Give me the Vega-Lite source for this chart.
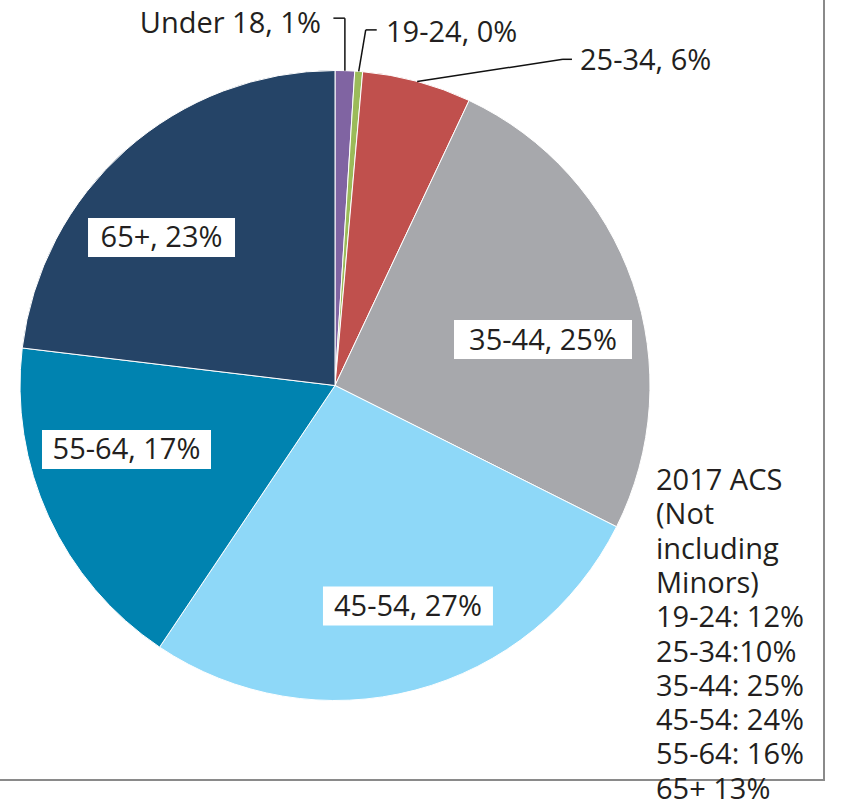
{
  "$schema": "https://vega.github.io/schema/vega-lite/v6.json",
  "autosize": "none",
  "width": 978,
  "height": 789,
  "padding": {"left": -154, "top": -9, "right": 26, "bottom": 19},
  "background": "white",
  "config": {
    "view": {"stroke": "#8a8a8a", "strokeWidth": 2},
    "text": {"font": "Open Sans", "fontSize": 29, "color": "#231F20"}
  },
  "data": {
    "values": [
      {"age": "Under 18", "value": 1.0, "label": "Under 18, 1%"},
      {"age": "19-24", "value": 0.4, "label": "19-24, 0%"},
      {"age": "25-34", "value": 5.6, "label": "25-34, 6%"},
      {"age": "35-44", "value": 25.4, "label": "35-44, 25%"},
      {"age": "45-54", "value": 27.0, "label": "45-54, 27%"},
      {"age": "55-64", "value": 17.5, "label": "55-64, 17%"},
      {"age": "65+", "value": 23.1, "label": "65+, 23%"}
    ]
  },
  "transform": [
    {"window": [{"op": "sum", "field": "value", "as": "cum"}, {"op": "row_number", "as": "idx"}], "frame": [null, 0]},
    {"joinaggregate": [{"op": "sum", "field": "value", "as": "total"}]},
    {"calculate": "2*PI*(datum.cum - datum.value/2)/datum.total", "as": "a"},
    {"calculate": "315*sin(datum.a)", "as": "ex"},
    {"calculate": "315*cos(datum.a)", "as": "ey"},
    {"calculate": "222*sin(datum.a)", "as": "lx"},
    {"calculate": "222*cos(datum.a)", "as": "ly"}
  ],
  "encoding": {
    "x": {"field": "lx", "type": "quantitative", "scale": {"domain": [-489, 489], "nice": false, "zero": false}, "axis": null},
    "y": {"field": "ly", "type": "quantitative", "scale": {"domain": [-394.5, 394.5], "nice": false, "zero": false}, "axis": null}
  },
  "layer": [
    {
      "mark": {"type": "arc", "radius": 315, "stroke": "white", "strokeWidth": 1},
      "encoding": {
        "x": {"datum": 0, "type": "quantitative"},
        "y": {"datum": 0, "type": "quantitative"},
        "theta": {"field": "value", "type": "quantitative", "stack": true},
        "order": {"field": "idx", "type": "quantitative"},
        "color": {
          "field": "age", "type": "nominal", "legend": null,
          "scale": {
            "domain": ["Under 18", "19-24", "25-34", "35-44", "45-54", "55-64", "65+"],
            "range": ["#8064A2", "#9BBB59", "#C0504D", "#A7A8AC", "#8ED8F8", "#0083B0", "#254467"]
          }
        }
      }
    },
    {
      "transform": [{"filter": "datum.age === '35-44'"}],
      "mark": {"type": "rect", "color": "white", "xOffset": -90.8, "x2Offset": 87.2, "yOffset": 7.1, "y2Offset": 46.1},
      "encoding": {"x2": {"field": "lx"}, "y2": {"field": "ly"}}
    },
    {
      "transform": [{"filter": "datum.age === '35-44'"}],
      "mark": {"type": "text", "align": "center", "baseline": "middle", "dx": -1.8, "dy": 27.6},
      "encoding": {"text": {"field": "label"}}
    },
    {
      "transform": [{"filter": "datum.age === '45-54'"}],
      "mark": {"type": "rect", "color": "white", "xOffset": -68.6, "x2Offset": 101.4, "yOffset": -13.7, "y2Offset": 25.3},
      "encoding": {"x2": {"field": "lx"}, "y2": {"field": "ly"}}
    },
    {
      "transform": [{"filter": "datum.age === '45-54'"}],
      "mark": {"type": "text", "align": "center", "baseline": "middle", "dx": 16.4, "dy": 6.8},
      "encoding": {"text": {"field": "label"}}
    },
    {
      "transform": [{"filter": "datum.age === '55-64'"}],
      "mark": {"type": "rect", "color": "white", "xOffset": -91.25, "x2Offset": 77.75, "yOffset": -48.15, "y2Offset": -9.15},
      "encoding": {"x2": {"field": "lx"}, "y2": {"field": "ly"}}
    },
    {
      "transform": [{"filter": "datum.age === '55-64'"}],
      "mark": {"type": "text", "align": "center", "baseline": "middle", "dx": -6.75, "dy": -27.65},
      "encoding": {"text": {"field": "label"}}
    },
    {
      "transform": [{"filter": "datum.age === '65+'"}],
      "mark": {"type": "rect", "color": "white", "xOffset": -99.65, "x2Offset": 47.35, "yOffset": -1.45, "y2Offset": 37.55},
      "encoding": {"x2": {"field": "lx"}, "y2": {"field": "ly"}}
    },
    {
      "transform": [{"filter": "datum.age === '65+'"}],
      "mark": {"type": "text", "align": "center", "baseline": "middle", "dx": -26.15, "dy": 19.05},
      "encoding": {"text": {"field": "label"}}
    },
    {
      "transform": [{"filter": "datum.age === 'Under 18'"}],
      "mark": {"type": "rule", "color": "#111", "strokeWidth": 1.5, "y2Offset": -52.5},
      "encoding": {"x": {"field": "ex", "type": "quantitative"}, "y": {"field": "ey", "type": "quantitative"}, "x2": {"field": "ex"}, "y2": {"field": "ey"}}
    },
    {
      "transform": [{"filter": "datum.age === 'Under 18'"}],
      "mark": {"type": "rule", "color": "#111", "strokeWidth": 1.5, "yOffset": -52.5, "y2Offset": -52.5, "x2Offset": -11.5},
      "encoding": {"x": {"field": "ex", "type": "quantitative"}, "y": {"field": "ey", "type": "quantitative"}, "x2": {"field": "ex"}, "y2": {"field": "ey"}}
    },
    {
      "transform": [{"filter": "datum.age === 'Under 18'"}],
      "mark": {"type": "text", "align": "right", "baseline": "middle", "dx": -24, "dy": -46.9},
      "encoding": {"x": {"field": "ex", "type": "quantitative"}, "y": {"field": "ey", "type": "quantitative"}, "text": {"field": "label"}}
    },
    {
      "transform": [{"filter": "datum.age === '19-24'"}],
      "mark": {"type": "rule", "color": "#111", "strokeWidth": 1.5, "x2Offset": 7, "y2Offset": -41.5},
      "encoding": {"x": {"field": "ex", "type": "quantitative"}, "y": {"field": "ey", "type": "quantitative"}, "x2": {"field": "ex"}, "y2": {"field": "ey"}}
    },
    {
      "transform": [{"filter": "datum.age === '19-24'"}],
      "mark": {"type": "rule", "color": "#111", "strokeWidth": 1.5, "xOffset": 7, "x2Offset": 18, "yOffset": -41.5, "y2Offset": -41.5},
      "encoding": {"x": {"field": "ex", "type": "quantitative"}, "y": {"field": "ey", "type": "quantitative"}, "x2": {"field": "ex"}, "y2": {"field": "ey"}}
    },
    {
      "transform": [{"filter": "datum.age === '19-24'"}],
      "mark": {"type": "text", "align": "left", "baseline": "middle", "dx": 27.3, "dy": -38.4},
      "encoding": {"x": {"field": "ex", "type": "quantitative"}, "y": {"field": "ey", "type": "quantitative"}, "text": {"field": "label"}}
    },
    {
      "transform": [{"filter": "datum.age === '25-34'"}],
      "mark": {"type": "rule", "color": "#111", "strokeWidth": 1.5, "x2Offset": 145.8, "y2Offset": -22.1},
      "encoding": {"x": {"field": "ex", "type": "quantitative"}, "y": {"field": "ey", "type": "quantitative"}, "x2": {"field": "ex"}, "y2": {"field": "ey"}}
    },
    {
      "transform": [{"filter": "datum.age === '25-34'"}],
      "mark": {"type": "rule", "color": "#111", "strokeWidth": 1.5, "xOffset": 145.8, "x2Offset": 154.8, "yOffset": -22.1, "y2Offset": -22.1},
      "encoding": {"x": {"field": "ex", "type": "quantitative"}, "y": {"field": "ey", "type": "quantitative"}, "x2": {"field": "ex"}, "y2": {"field": "ey"}}
    },
    {
      "transform": [{"filter": "datum.age === '25-34'"}],
      "mark": {"type": "text", "align": "left", "baseline": "middle", "dx": 162.8, "dy": -20.1},
      "encoding": {"x": {"field": "ex", "type": "quantitative"}, "y": {"field": "ey", "type": "quantitative"}, "text": {"field": "label"}}
    },
    {
      "transform": [{"filter": "datum.idx === 1"}],
      "mark": {
        "type": "text", "align": "left", "baseline": "alphabetic", "lineHeight": 34.3,
        "text": ["2017 ACS", "(Not", "including", "Minors)", "19-24: 12%", "25-34:10%", "35-44: 25%", "45-54: 24%", "55-64: 16%", "65+ 13%"]
      },
      "encoding": {"x": {"datum": 321, "type": "quantitative"}, "y": {"datum": -104.5, "type": "quantitative"}}
    }
  ]
}
